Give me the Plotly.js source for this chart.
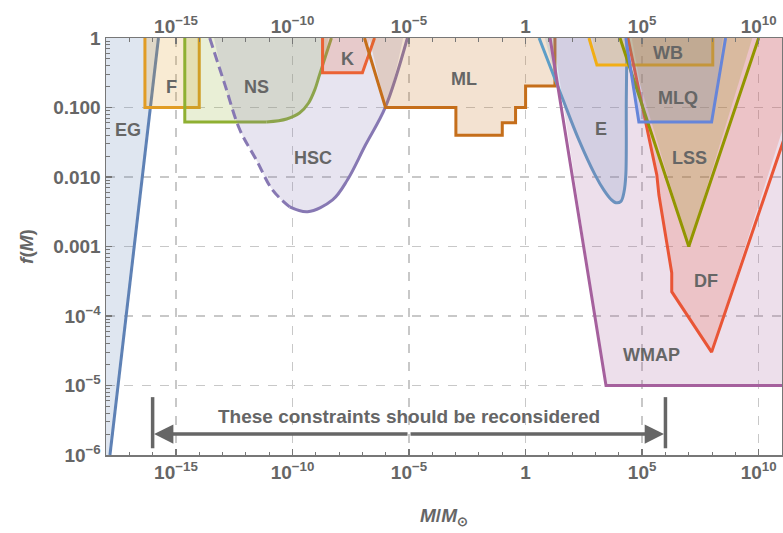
<!DOCTYPE html>
<html>
<head>
<meta charset="utf-8">
<script src="https://cdn.plot.ly/plotly-3.0.1.min.js"></script>
<style>html,body{margin:0;padding:0;background:#fff;}#chart{width:783px;height:533px;}</style>
</head>
<body>
<div id="chart"></div>
<script>
// ---- axis extents (log10 units) ----
const X_RANGE = [-18, 11];
const Y_RANGE = [-6, 0];

// ---- tick labels ----
const xTickExp = [-15, -10, -5, 0, 5, 10];
const xTickText = ['10<sup>−15</sup>', '10<sup>−10</sup>', '10<sup>−5</sup>', '1', '10<sup>5</sup>', '10<sup>10</sup>'];
const yTickExp = [0, -1, -2, -3, -4, -5, -6];
const yTickText = ['1', '0.100', '0.010', '0.001', '10<sup>−4</sup>', '10<sup>−5</sup>', '10<sup>−6</sup>'];

// ---- constraint boundaries (log10 M/Msun, log10 f) ----
const EG_logM = [-17.83, -15.75];
const EG_logF = [-6, 0];
const F_logM = [-16.33, -16.33, -14.0, -14.0];
const F_logF = [0, -1, -1, 0];
const NSflat_logM = [-14.62, -14.62, -11.11];
const NSflat_logF = [0, -1.21, -1.21];
const NScurve_logM = [-11.11, -10.25, -9.70, -9.31, -9.05, -8.84, -8.58, -8.33];
const NScurve_logF = [-1.21, -1.165, -1.08, -0.935, -0.75, -0.53, -0.26, 0];
const HSCdash_logM = [-13.55, -12.91, -12.26, -11.55, -10.85, -10.12];
const HSCdash_logF = [0, -0.66, -1.32, -1.755, -2.19, -2.43];
const HSCsolid_logM = [-10.12, -9.35, -8.28, -7.64, -6.87, -6.01, -5.07];
const HSCsolid_logF = [-2.43, -2.50, -2.33, -2.04, -1.54, -0.99, 0];
const K_logM = [-8.71, -8.71, -7.00, -6.48];
const K_logF = [0, -0.50, -0.50, 0];
const ML_logM = [-6.91, -6.01, -2.99, -2.99, -1.00, -1.00, -0.43, -0.43, 0.0, 0.0, 1.26, 1.26];
const ML_logF = [0, -1, -1, -1.40, -1.40, -1.22, -1.22, -1, -1, -0.69, -0.69, 0];
const E_logM = [0.58, 1.56, 2.29, 2.98, 3.36, 3.66, 3.88, 4.09, 4.22, 4.30, 4.32, 4.35];
const E_logF = [0, -0.85, -1.47, -1.97, -2.19, -2.32, -2.37, -2.35, -2.22, -1.97, -0.89, 0];
const WMAP_logM = [1.05, 3.45, 11.5];
const WMAP_logF = [0, -5, -5];
const WB_logM = [2.72, 3.06, 8.03, 8.03];
const WB_logF = [0, -0.39, -0.39, 0];
const MLQ_logM = [4.30, 4.86, 7.98, 8.58];
const MLQ_logF = [0, -1.21, -1.21, 0];
const DF_logM = [4.39, 5.63, 5.72, 6.27, 6.27, 7.98, 12.56];
const DF_logF = [0, -1.97, -2.26, -3.38, -3.65, -4.52, 0];
const LSS_logM = [4.05, 7.0, 10.0];
const LSS_logF = [0, -3.0, 0];

// ---- region labels ----
const labelText = ['EG', 'F', 'NS', 'K', 'HSC', 'ML', 'E', 'WB', 'MLQ', 'LSS', 'DF', 'WMAP'];
const labelLogM = [-17.06, -15.17, -11.54, -7.66, -9.14, -2.63, 3.25, 6.10, 6.53, 7.05, 7.73, 5.4];
const labelLogF = [-1.32, -0.70, -0.70, -0.30, -1.73, -0.59, -1.31, -0.21, -0.86, -1.73, -3.49, -4.56];

// ---- "reconsidered" range ----
const reconsiderM = [1e-16, 1e6];
const reconsiderBarF = [6.8e-6, 1.25e-6];
const reconsiderArrowF = 2.0e-6;
const reconsiderTextF = 3.6e-6;
const reconsiderText = 'These constraints should be reconsidered';

const P = v => Math.pow(10, v);
const pw = a => a.map(P);

const colors = {
  EG: '#5E81B5', F: '#E19C24', NS: '#8FB032', K: '#EB6235', HSC: '#8778B3',
  ML: '#C56E1A', E: '#5D9EC7', WB: '#F2AE14', WMAP: '#A5609D', LSS: '#929600',
  DF: '#E95536', MLQ: '#6685D9'
};
function rgba(hex, a) {
  const n = parseInt(hex.slice(1), 16);
  return 'rgba(' + ((n >> 16) & 255) + ',' + ((n >> 8) & 255) + ',' + (n & 255) + ',' + a + ')';
}
const FILL_A = 0.2;
const TOP = Y_RANGE[1] + 0.3;

function fillTrace(xs, ys, col, shape) {
  return {x: pw(xs), y: pw(ys), mode: 'lines', line: {width: 0, color: col, shape: shape || 'linear'},
          fill: 'toself', fillcolor: rgba(col, FILL_A), hoverinfo: 'skip', showlegend: false};
}
function lineTrace(xs, ys, col, dash, shape) {
  return {x: pw(xs), y: pw(ys), mode: 'lines',
          line: {width: 3, color: col, dash: dash || 'solid', shape: shape || 'linear'},
          hoverinfo: 'skip', showlegend: false};
}
function topClosed(xs, ys) {
  return [xs.slice(), ys.map(v => v === 0 ? TOP : v)];
}

const traces = [];
function region(xs, ys, col, shape) {
  const [X, Y] = topClosed(xs, ys);
  traces.push(fillTrace(X, Y, col, shape));
  traces.push(lineTrace(xs, ys, col, null, shape));
}

// EG: region left of the line
(function () {
  const slope = (EG_logM[1] - EG_logM[0]) / (EG_logF[1] - EG_logF[0]);
  const xx = [EG_logM[0] - slope * 0.5, EG_logM[1] + slope * 0.3, X_RANGE[0] - 1, X_RANGE[0] - 1];
  const yy = [Y_RANGE[0] - 0.5, TOP, TOP, Y_RANGE[0] - 0.5];
  traces.push(fillTrace(xx, yy, colors.EG));
  traces.push(lineTrace(EG_logM, EG_logF, colors.EG));
})();
region(F_logM, F_logF, colors.F);
// NS: flat part straight, upturn smooth
(function () {
  const X = NSflat_logM.concat(NScurve_logM.slice(1));
  const Y = NSflat_logF.concat(NScurve_logF.slice(1));
  const [XX, YY] = topClosed(X, Y);
  traces.push(fillTrace(XX, YY, colors.NS));
  traces.push(lineTrace(NSflat_logM, NSflat_logF, colors.NS));
  traces.push(lineTrace(NScurve_logM, NScurve_logF, colors.NS, null, 'spline'));
})();
// HSC
(function () {
  const X = HSCdash_logM.concat(HSCsolid_logM.slice(1));
  const Y = HSCdash_logF.concat(HSCsolid_logF.slice(1));
  const [XX, YY] = topClosed(X, Y);
  traces.push(fillTrace(XX, YY, colors.HSC, 'spline'));
  traces.push(lineTrace(HSCdash_logM, HSCdash_logF, colors.HSC, '10px,5px', 'spline'));
  traces.push(lineTrace(HSCsolid_logM, HSCsolid_logF, colors.HSC, null, 'spline'));
})();
region(K_logM, K_logF, colors.K);
region(ML_logM, ML_logF, colors.ML);
region(E_logM, E_logF, colors.E, 'spline');
// WMAP
(function () {
  const X = WMAP_logM.concat([WMAP_logM[2]]);
  const Y = [TOP, WMAP_logF[1], WMAP_logF[2], TOP];
  traces.push(fillTrace(X, Y, colors.WMAP));
  traces.push(lineTrace(WMAP_logM, WMAP_logF, colors.WMAP));
})();
region(WB_logM, WB_logF, colors.WB);
region(DF_logM, DF_logF, colors.DF);
region(LSS_logM, LSS_logF, colors.LSS);
region(MLQ_logM, MLQ_logF, colors.MLQ);

const GRAY = '#666666';
reconsiderM.forEach(m => {
  traces.push({x: [m, m], y: reconsiderBarF, mode: 'lines', line: {width: 3.5, color: GRAY},
               hoverinfo: 'skip', showlegend: false});
});
// dummy for top axis
traces.push({x: [], y: [], xaxis: 'x2', yaxis: 'y', mode: 'markers', showlegend: false});

const FONT = 'Liberation Sans, Arial, Helvetica, sans-serif';
const tickFont = {family: FONT, size: 19, color: GRAY, weight: 'bold'};

const annotations = labelText.map((t, i) => ({
  x: labelLogM[i], y: labelLogF[i], xref: 'x', yref: 'y', text: t, showarrow: false,
  font: {family: FONT, size: 18, color: GRAY, weight: 'bold'}
}));
const midM = Math.log10(Math.sqrt(reconsiderM[0] * reconsiderM[1]));
const arrowY = Math.log10(reconsiderArrowF);
[0, 1].forEach(i => {
  annotations.push({x: Math.log10(reconsiderM[i]), y: arrowY, ax: midM, ay: arrowY,
    xref: 'x', yref: 'y', axref: 'x', ayref: 'y', text: '', showarrow: true,
    arrowhead: 2, arrowsize: 1.1, arrowwidth: 3.5, arrowcolor: GRAY, standoff: 1.5});
});
annotations.push({x: midM, y: Math.log10(reconsiderTextF), xref: 'x', yref: 'y',
  text: reconsiderText, showarrow: false, font: {family: FONT, size: 19, color: GRAY, weight: 'bold'}});

const axCommon = {
  type: 'log', ticks: 'inside', ticklen: 6, tickwidth: 1.3, tickcolor: '#777',
  showline: true, linecolor: '#777', linewidth: 1.5, zeroline: false, tickfont: tickFont
};

const layout = {
  width: 783, height: 533,
  margin: {l: 106, r: 1, t: 38, b: 78},
  paper_bgcolor: '#fff', plot_bgcolor: '#fff',
  showlegend: false,
  xaxis: Object.assign({}, axCommon, {
    range: X_RANGE, tickmode: 'array', tickvals: xTickExp.map(P), ticktext: xTickText,
    mirror: true, showgrid: true, gridcolor: '#c8c8c8', griddash: 'dash', gridwidth: 1.3,
    minor: {ticks: 'inside', ticklen: 3.5, tickcolor: '#777', tickwidth: 1, dtick: 1, tick0: 0, showgrid: false},
    title: {text: '<i>M</i>/<i>M</i><sub>⊙</sub>', font: {family: FONT, size: 19, color: GRAY, weight: 'bold'}, standoff: 26}
  }),
  xaxis2: Object.assign({}, axCommon, {
    range: X_RANGE, overlaying: 'x', side: 'top', anchor: 'y', tickmode: 'array',
    tickvals: xTickExp.map(P), ticktext: xTickText, showgrid: false, showline: false,
    minor: {ticks: 'inside', ticklen: 3.5, tickcolor: '#777', tickwidth: 1, dtick: 1, tick0: 0, showgrid: false}
  }),
  yaxis: Object.assign({}, axCommon, {
    range: Y_RANGE, tickmode: 'array', tickvals: yTickExp.map(P), ticktext: yTickText,
    mirror: true, showgrid: true, gridcolor: '#c8c8c8', griddash: 'dash', gridwidth: 1.3,
    minor: {ticks: 'inside', ticklen: 3.5, tickcolor: '#777', tickwidth: 1, dtick: 'D1', showgrid: false},
    title: {text: '<i>f</i>(<i>M</i>)', font: {family: FONT, size: 19, color: GRAY, weight: 'bold'}, standoff: 14}
  }),
  annotations: annotations
};

Plotly.newPlot('chart', traces, layout, {staticPlot: true, displayModeBar: false});
</script>
</body>
</html>
